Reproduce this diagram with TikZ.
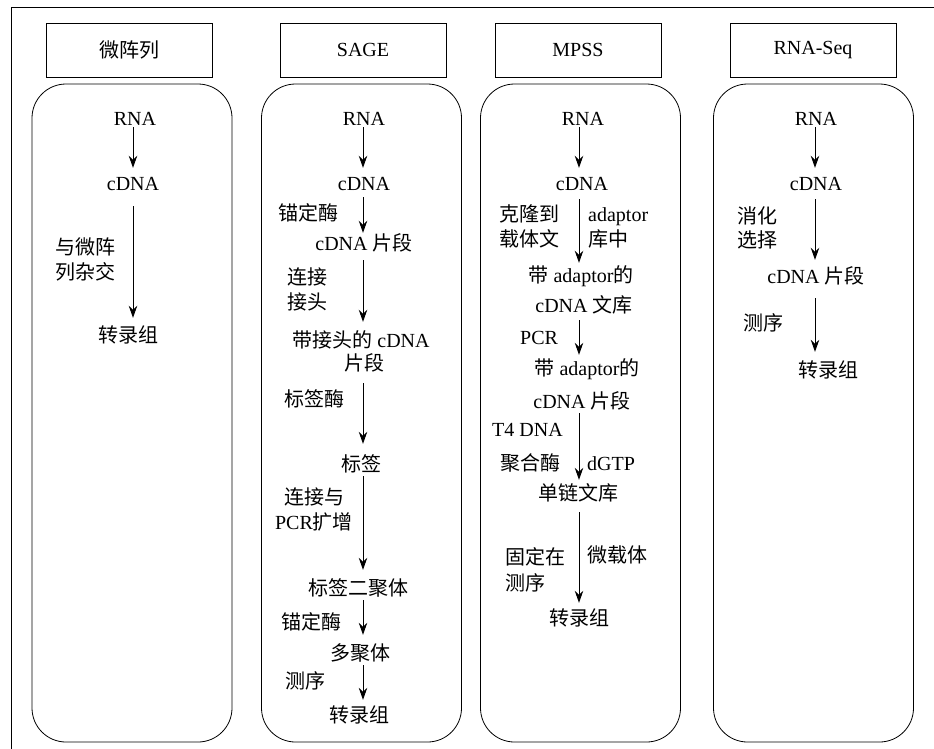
\documentclass[tikz,border=0pt]{standalone}
\usepackage{fontspec}
\setmainfont{Liberation Serif}
\newfontfamily\cjk{Noto Sans CJK SC}
\newcommand\zhs[1]{{\cjk #1}}
\usetikzlibrary{arrows.meta}
\tikzset{
  txt/.style={anchor=base, inner sep=0pt, text height=15pt, text depth=5pt, font=\fontsize{20}{24}\selectfont},
  lbl/.style={anchor=base west, inner sep=0pt, text height=15pt, text depth=5pt, font=\fontsize{20}{24}\selectfont},
  lblc/.style={anchor=base, inner sep=0pt, font=\fontsize{20}{24}\selectfont},
  head/.style={draw, line width=0.8pt, minimum width=166pt, minimum height=54pt, inner sep=0pt, font=\fontsize{20}{24}\selectfont},
  panel/.style={draw, line width=0.8pt, rounded corners=34pt, minimum width=200pt, minimum height=658pt, inner sep=0pt},
  arr/.style={line width=0.9pt, -{Stealth[length=12pt,width=8.5pt,inset=4pt]}}
}
\newcommand\flow[5]{\draw[arr, shorten <=#4pt, shorten >=#5pt] (#1.south -| #3) -- (#2.north -| #3);}
\begin{document}
\begin{tikzpicture}[x=1pt,y=-1pt]
\useasboundingbox (0,0) rectangle (934,748);
\clip (0,0) rectangle (934,748);
\draw[line width=0.8pt] (11.5,7) rectangle (950,760);
% column axes
\coordinate (X1) at (133,0);
\coordinate (X2) at (363,0);
\coordinate (X3) at (579,0);
\coordinate (X4) at (815,0);
% headers
\node[head] (h1) at (129,50) {\zhs{微阵列}};
\node[head] (h2) at (363,50) {SAGE};
\node[head] (h3) at (578,50) {MPSS};
\node[head] (h4) at (813,50) {RNA-Seq};
% panels
\node[panel] (p1) at (132,413) {};
\node[panel] (p2) at (361.5,413) {};
\node[panel] (p3) at (580.5,413) {};
\node[panel] (p4) at (813.5,413) {};
% ---- column 1
\node[txt] (a1) at (135,125) {RNA};
\node[txt] (a2) at (133,190) {cDNA};
\node[txt] (a3) at (128,342) {\zhs{转录组}};
\node[lbl] (la1) at (55,254) {\zhs{与微阵}};
\node[lbl] (la2) at (55,279) {\zhs{列杂交}};
\flow{a1}{a2}{X1}{-3}{7}
\flow{a2}{a3}{X1}{11}{9}
% ---- column 2
\node[txt] (b1) at (364,125) {RNA};
\node[txt] (b2) at (364,190) {cDNA};
\node[txt] (b3) at (364,250) {cDNA \zhs{片段}};
\node[txt] (b4) at (361,347) {\zhs{带接头的} cDNA};
\node[txt] (b5) at (364,370) {\zhs{片段}};
\node[txt] (b6) at (361,471) {\zhs{标签}};
\node[txt] (b7) at (358,595) {\zhs{标签二聚体}};
\node[txt] (b8) at (360,660) {\zhs{多聚体}};
\node[txt] (b9) at (359,722) {\zhs{转录组}};
\node[lbl] (lb1) at (278,220) {\zhs{锚定酶}};
\node[lbl] (lb2) at (287,284) {\zhs{连接}};
\node[lbl] (lb3) at (287,309) {\zhs{接头}};
\node[lbl] (lb4) at (284,406) {\zhs{标签酶}};
\node[lblc] (lb5) at (314,504) {\zhs{连接与}};
\node[lblc] (lb6) at (314,529) {PCR\zhs{扩增}};
\node[lbl] (lb7) at (281,629) {\zhs{锚定酶}};
\node[lbl] (lb8) at (285,688) {\zhs{测序}};
\flow{b1}{b2}{X2}{-3}{7}
\flow{b2}{b3}{X2}{2}{2}
\flow{b3}{b4}{X2}{5}{10}
\flow{b5}{b6}{X2}{8}{12}
\flow{b6}{b7}{X2}{0}{10}
\flow{b7}{b8}{X2}{0}{10}
\flow{b8}{b9}{X2}{0}{7}
% ---- column 3
\node[txt] (c1) at (583,125) {RNA};
\node[txt] (c2) at (582,190) {cDNA};
\node[txt] (c3) at (581,282) {\zhs{带} adaptor\zhs{的}};
\node[txt] (c4) at (584,312) {cDNA \zhs{文库}};
\node[txt] (c5) at (587,375) {\zhs{带} adaptor\zhs{的}};
\node[txt] (c6) at (582,408) {cDNA \zhs{片段}};
\node[txt] (c7) at (578,500) {\zhs{单链文库}};
\node[txt] (c8) at (579,625) {\zhs{转录组}};
\node[lbl] (lc1) at (499,221) {\zhs{克隆到}};
\node[lbl] (lc2) at (499,246) {\zhs{载体文}};
\node[lbl] (lc3) at (588,221) {adaptor};
\node[lbl] (lc4) at (588,246) {\zhs{库中}};
\node[lbl] (lc5) at (520,344) {PCR};
\node[lbl] (lc6) at (492,436) {T4 DNA};
\node[lbl] (lc7) at (500,470) {\zhs{聚合酶}};
\node[lbl] (lc8) at (587,470) {dGTP};
\node[lbl] (lc9) at (505,564) {\zhs{固定在}};
\node[lbl] (lc10) at (505,590) {\zhs{测序}};
\node[lbl] (lc11) at (587,562) {\zhs{微载体}};
\flow{c1}{c2}{X3}{-3}{7}
\flow{c2}{c3}{X3}{4}{4}
\flow{c4}{c5}{X3}{3}{5}
\flow{c6}{c7}{X3}{0}{5}
\flow{c7}{c8}{X3}{7}{7}
% ---- column 4
\node[txt] (d1) at (816,125) {RNA};
\node[txt] (d2) at (816,190) {cDNA};
\node[txt] (d3) at (816,283) {cDNA \zhs{片段}};
\node[txt] (d4) at (828,377) {\zhs{转录组}};
\node[lbl] (ld1) at (737,223) {\zhs{消化}};
\node[lbl] (ld2) at (737,247) {\zhs{选择}};
\node[lbl] (ld3) at (743,330) {\zhs{测序}};
\flow{d1}{d2}{X4}{-3}{7}
\flow{d2}{d3}{X4}{4}{8}
\flow{d3}{d4}{X4}{10}{10}
\end{tikzpicture}
\end{document}
